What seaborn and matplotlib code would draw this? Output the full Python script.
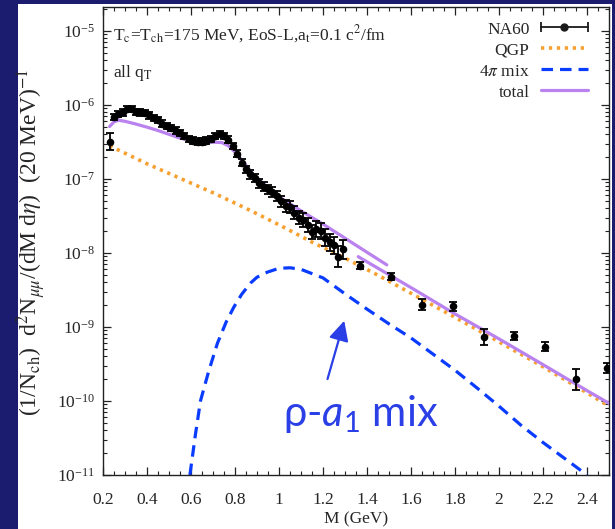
import numpy as np
import pandas as pd
import seaborn as sns
import matplotlib
matplotlib.use("Agg")
import matplotlib.pyplot as plt
from matplotlib.patches import Rectangle
from matplotlib.lines import Line2D
from matplotlib.legend_handler import HandlerBase
from matplotlib.ticker import MultipleLocator, FixedLocator, NullFormatter, LogFormatterMathtext

# ---------------- data ----------------
# NA60 excess dimuon data, low-mass region (20 MeV bins)
na60_lm_M = [0.23, 0.25, 0.27, 0.29, 0.31, 0.33, 0.35, 0.37, 0.39, 0.41, 0.43, 0.45, 0.47,
             0.49, 0.51, 0.53, 0.55, 0.57, 0.59, 0.61, 0.63, 0.65, 0.67, 0.69, 0.71,
             0.73, 0.75, 0.77, 0.79, 0.81, 0.83, 0.85, 0.87, 0.89, 0.91, 0.93, 0.95,
             0.97, 0.99, 1.01, 1.03, 1.05, 1.07, 1.09, 1.11, 1.13, 1.15, 1.17, 1.19,
             1.21, 1.23, 1.25, 1.27, 1.29]
na60_lm_y = [3.2e-7, 6.8e-7, 7.6e-7, 7.9e-7, 8.7e-7, 8.7e-7, 8.1e-7, 7.9e-7, 7.8e-7, 7.2e-7,
             6.6e-7, 6.2e-7, 5.6e-7, 5.2e-7, 4.9e-7, 4.5e-7, 4.2e-7, 3.8e-7, 3.5e-7,
             3.3e-7, 3.2e-7, 3.2e-7, 3.3e-7, 3.5e-7, 3.8e-7, 4.0e-7, 3.8e-7, 3.4e-7,
             2.75e-7, 2.2e-7, 1.66e-7, 1.35e-7, 1.15e-7, 1.02e-7, 8.7e-8, 7.8e-8,
             7.2e-8, 6.6e-8, 5.9e-8, 5.0e-8, 4.3e-8, 4.2e-8, 3.5e-8, 3.0e-8, 2.75e-8,
             2.4e-8, 1.9e-8, 2.1e-8, 2.0e-8, 1.6e-8, 1.4e-8, 1.26e-8, 8.9e-9, 1.12e-8]
na60_lm_err = [0.30, 0.10, 0.10, 0.10, 0.10, 0.10, 0.10, 0.10, 0.10, 0.10, 0.10, 0.10, 0.10,
               0.10, 0.10, 0.10, 0.10, 0.10, 0.10, 0.10, 0.10, 0.10, 0.10, 0.10, 0.10,
               0.10, 0.10, 0.10, 0.10, 0.12, 0.12, 0.12, 0.14, 0.14, 0.15, 0.15, 0.16,
               0.16, 0.18, 0.18, 0.20, 0.20, 0.22, 0.22, 0.24, 0.25, 0.25, 0.28, 0.28,
               0.30, 0.30, 0.32, 0.40, 0.35]
# NA60 intermediate-mass points
na60_im_M = [1.37, 1.51, 1.65, 1.79, 1.93, 2.07, 2.21, 2.35, 2.49]
na60_im_y = [6.7e-9, 4.8e-9, 2.0e-9, 1.9e-9, 7.4e-10, 7.6e-10, 5.4e-10, 1.96e-10, 2.8e-10]
na60_im_err = [0.12, 0.12, 0.18, 0.14, 0.28, 0.14, 0.15, 0.38, 0.18]

# QGP rate
qgp_M = [0.23, 0.40, 0.55, 0.70, 0.85, 1.00, 1.15, 1.30, 1.45, 1.60, 1.80, 2.00, 2.20, 2.40, 2.50]
qgp_y = [2.8e-7, 1.6e-7, 1.02e-7, 6.5e-8, 4.0e-8, 2.4e-8, 1.4e-8, 8.5e-9, 5.0e-9, 2.85e-9,
         1.35e-9, 6.3e-10, 2.9e-10, 1.29e-10, 8.5e-11]

# 4pi (rho-a1) mixing contribution
mix_M = [0.595, 0.62, 0.643, 0.68, 0.72, 0.76, 0.795, 0.83, 0.87, 0.90, 0.947, 1.00, 1.05,
         1.10, 1.20, 1.30, 1.40, 1.50, 1.60, 1.70, 1.80, 1.90, 2.00, 2.10, 2.20, 2.30, 2.40]
mix_y = [1.0e-11, 3.5e-11, 1.0e-10, 2.5e-10, 6.0e-10, 1.17e-9, 1.86e-9, 2.75e-9, 3.9e-9,
         4.7e-9, 5.5e-9, 6.2e-9, 6.3e-9, 6.0e-9, 4.6e-9, 2.8e-9, 1.74e-9, 1.1e-9, 7.1e-10,
         4.3e-10, 2.6e-10, 1.5e-10, 8.5e-11, 4.7e-11, 2.75e-11, 1.66e-11, 1.0e-11]

# total (low-mass part and intermediate-mass part)
tot_lm_M = [0.23, 0.25, 0.27, 0.30, 0.35, 0.40, 0.45, 0.50, 0.55, 0.60, 0.65, 0.70, 0.74,
            0.77, 0.80, 0.84, 0.88, 0.92, 1.00, 1.10, 1.20, 1.30, 1.40, 1.49]
tot_lm_y = [5.1e-7, 5.9e-7, 6.2e-7, 6.0e-7, 5.5e-7, 5.0e-7, 4.5e-7, 4.0e-7, 3.55e-7, 3.3e-7,
            3.16e-7, 3.13e-7, 3.1e-7, 2.8e-7, 2.3e-7, 1.66e-7, 1.17e-7, 9.1e-8, 5.75e-8,
            3.7e-8, 2.45e-8, 1.58e-8, 1.02e-8, 6.9e-9]
tot_im_M = [1.36, 1.60, 1.80, 2.00, 2.20, 2.40, 2.50]
tot_im_y = [8.9e-9, 3.4e-9, 1.5e-9, 6.9e-10, 3.1e-10, 1.38e-10, 9.3e-11]

x_ticks = [0.2, 0.4, 0.6, 0.8, 1, 1.2, 1.4, 1.6, 1.8, 2, 2.2, 2.4]
x_ticklabels = ["0.2", "0.4", "0.6", "0.8", "1", "1.2", "1.4", "1.6", "1.8", "2", "2.2", "2.4"]
y_ticks = [1e-11, 1e-10, 1e-9, 1e-8, 1e-7, 1e-6, 1e-5]

# ---------------- style ----------------
sns.set_theme(style="ticks")
plt.rcParams["font.family"] = ["Liberation Serif", "DejaVu Serif"]
plt.rcParams["mathtext.fontset"] = "stix"
plt.rcParams["mathtext.rm"] = "Lato"
plt.rcParams["mathtext.it"] = "Lato:italic"

C_QGP = "#f7a030"
C_MIX = "#0a3cff"
C_TOT = "#b982ee"
C_BG = "#1b1b70"
C_ANN = "#2a3fe6"

W, H = 615, 529
fig = plt.figure(figsize=(W / 100, H / 100), dpi=100)
fig.patch.set_facecolor(C_BG)
fig.add_artist(Rectangle((18 / W, 0), (612 - 18) / W, (H - 4) / H, transform=fig.transFigure,
                         facecolor="white", edgecolor="none", zorder=0))

ax = fig.add_axes([103 / W, 54 / H, 506 / W, 468 / H])
ax.set_yscale("log")
ax.set_xlim(0.2, 2.5)
ax.set_ylim(1e-11, 2.1e-5)

# curves
df_tot_lm = pd.DataFrame({"M": tot_lm_M, "y": tot_lm_y})
df_tot_im = pd.DataFrame({"M": tot_im_M, "y": tot_im_y})
df_qgp = pd.DataFrame({"M": qgp_M, "y": qgp_y})
df_mix = pd.DataFrame({"M": mix_M, "y": mix_y})

sns.lineplot(data=df_tot_lm, x="M", y="y", ax=ax, color=C_TOT, lw=2.3, estimator=None, sort=False, zorder=3)
sns.lineplot(data=df_tot_im, x="M", y="y", ax=ax, color=C_TOT, lw=2.3, estimator=None, sort=False, zorder=3)
sns.lineplot(data=df_qgp, x="M", y="y", ax=ax, color=C_QGP, lw=2.6, estimator=None, sort=False, zorder=2)
ax.lines[-1].set_linestyle((0, (0.9, 1.3)))
sns.lineplot(data=df_mix, x="M", y="y", ax=ax, color=C_MIX, lw=2.3, estimator=None, sort=False, zorder=2)
ax.lines[-1].set_linestyle((0, (3.6, 2.2)))

# data points
M_all = na60_lm_M + na60_im_M
y_all = np.array(na60_lm_y + na60_im_y)
e_all = np.array(na60_lm_err + na60_im_err)
ax.errorbar(M_all, y_all, yerr=[y_all * e_all / (1 + e_all), y_all * e_all], fmt="none",
            ecolor="black", elinewidth=1.3, capsize=3, capthick=1.3, zorder=4)
sns.scatterplot(x=M_all, y=y_all, ax=ax, color="black", s=30, edgecolor="black", linewidth=0, zorder=5)

# axes styling
for s in ax.spines.values():
    s.set_linewidth(1.0)
    s.set_color("#222222")
ax.set_xticks(x_ticks)
ax.set_xticklabels(x_ticklabels)
ax.xaxis.set_minor_locator(MultipleLocator(0.05))
ax.yaxis.set_major_locator(FixedLocator(y_ticks))
minor_y = [m * 10.0 ** e for e in range(-11, -4) for m in range(2, 10) if m * 10.0 ** e < 2.1e-5]
ax.yaxis.set_minor_locator(FixedLocator(minor_y))
ax.yaxis.set_major_formatter(LogFormatterMathtext())
ax.yaxis.set_minor_formatter(NullFormatter())
ax.tick_params(which="both", direction="in", top=True, right=True, labelsize=12.5, color="#222222")
ax.tick_params(which="major", length=6, width=0.9)
ax.tick_params(axis="y", which="major", pad=6)
ax.tick_params(axis="x", which="major", pad=12)
ax.tick_params(which="minor", length=3, width=0.8)
ax.set_facecolor("white")

ax.set_ylabel("")
ax.set_xlabel("M (GeV)", fontsize=12.5, labelpad=3)
fig.text(31 / W, 1 - 242 / H,
         r"(1/N$_{\rm ch}$)  d$^2$N$_{\mu\mu}$/(dM d$\eta$)  (20 MeV)$^{-1}$",
         rotation=90, ha="center", va="center", fontsize=17)

ax.text(0.02, 0.943, r"T$_{\rm c}$=T$_{\rm ch}$=175 MeV, EoS-L,a$_{\rm t}$=0.1 c$^2$/fm",
        transform=ax.transAxes, fontsize=12.5, ha="left", va="center")
ax.text(0.02, 0.86, r"all q$_{\rm T}$", transform=ax.transAxes, fontsize=12.5, ha="left", va="center")

# annotation
ax.annotate("", xy=(1.30, 10 ** -8.88), xytext=(1.217, 10 ** -9.74),
            arrowprops=dict(arrowstyle="-|>,head_length=1.0,head_width=0.5", color=C_ANN, lw=1.6),
            zorder=6)
ax.text(1.02, 10 ** -10.34, r"ρ-$a_1$ mix", color=C_ANN, fontsize=30, ha="left", va="baseline",
        family=["Lato", "DejaVu Sans"], math_fontfamily="custom", zorder=6)


# legend
class HandlerNA60(HandlerBase):
    def create_artists(self, legend, orig_handle, xdescent, ydescent, width, height, fontsize, trans):
        y = height / 2 - ydescent
        x0, x1 = -xdescent, width - xdescent
        line = Line2D([x0, x1], [y, y], color="k", lw=1.3)
        caps = Line2D([x0, x1], [y, y], ls="none", marker="|", ms=7, mew=1.3, color="k")
        dot = Line2D([(x0 + x1) / 2], [y], ls="none", marker="o", ms=5, color="k")
        for a in (line, caps, dot):
            a.set_transform(trans)
        return [line, caps, dot]


h_na60 = Line2D([], [], color="k")
h_qgp = Line2D([], [], color=C_QGP, lw=2.6, ls=(0, (0.9, 1.3)))
h_mix = Line2D([], [], color=C_MIX, lw=2.3, ls=(0, (3.6, 2.2)))
h_tot = Line2D([], [], color=C_TOT, lw=2.3)
leg = ax.legend([h_na60, h_qgp, h_mix, h_tot], ["NA60", "QGP", r"4$\pi$ mix", "total"],
                loc="upper right", bbox_to_anchor=(1.0 - 4 / 506, 1.0 + 3 / 468), markerfirst=False,
                frameon=False, fontsize=12.5, handlelength=2.7, handletextpad=0.65, labelspacing=0.28,
                borderaxespad=0.0, borderpad=1.0, handler_map={h_na60: HandlerNA60()})

fig.savefig("out.png", dpi=100, facecolor=fig.get_facecolor())
